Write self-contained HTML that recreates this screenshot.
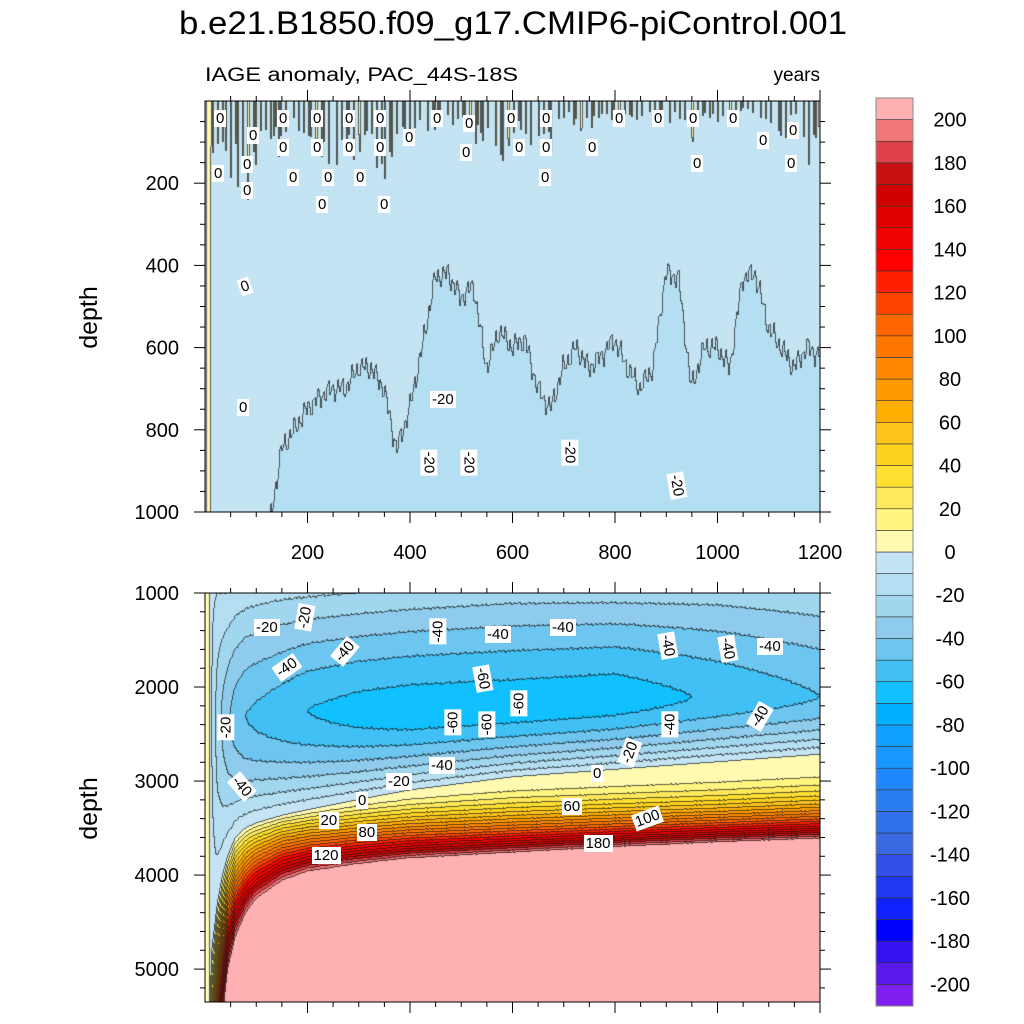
<!DOCTYPE html>
<html><head><meta charset="utf-8">
<style>
body{margin:0;background:#fff;width:1024px;height:1024px;overflow:hidden;font-family:"Liberation Sans",sans-serif;}
#wrap{position:relative;width:1024px;height:1024px;}
canvas{position:absolute;}
.t{position:absolute;white-space:nowrap;color:#000;}
.lab{position:absolute;background:#fff;font-size:15px;line-height:17px;padding:0 2px;transform-origin:center;white-space:nowrap;}
</style></head>
<body><div id="wrap">
<div class="t" style="left:58px;top:303px;font-size:25px;transform:rotate(-90deg);">depth</div>
<div class="t" style="left:58px;top:794px;font-size:25px;transform:rotate(-90deg);">depth</div>
<canvas id="ctop" width="615" height="411" style="left:205px;top:101px;"></canvas>
<canvas id="cbot" width="615" height="409" style="left:205px;top:593px;"></canvas>
<svg id="axes" width="1024" height="1024" style="position:absolute;left:0;top:0;">
<text x="179" y="34" font-size="32" textLength="668" lengthAdjust="spacingAndGlyphs" font-family="Liberation Sans, sans-serif">b.e21.B1850.f09_g17.CMIP6-piControl.001</text>
<text x="205" y="81" font-size="19" textLength="313" lengthAdjust="spacingAndGlyphs" font-family="Liberation Sans, sans-serif">IAGE anomaly, PAC_44S-18S</text>
<text x="820" y="81" font-size="19" text-anchor="end" font-family="Liberation Sans, sans-serif">years</text>
</svg>
<div id="labels"></div>
</div>
<script>
// ---- data ----
const levels = [-200,-190,-180,-170,-160,-150,-140,-130,-120,-110,-100,-90,-80,-70,-60,-50,-40,-30,-20,-10,0,10,20,30,40,50,60,70,80,90,100,110,120,130,140,150,160,170,180,190,200];
const colors = ["#8020f0","#5a18ea","#3412f0","#0000ff","#1020ff","#2038f0","#3050e8","#3a68e0","#3070e8","#2a7ef0","#2088ff","#1898ff","#10a0ff","#00b0ff","#10c0ff","#40c0f4","#6cc6f0","#8ecbec","#a0d6ee","#b4def2","#c4e4f4","#fffab0","#fff580","#ffe95a","#ffe030","#ffd21f","#ffc41a","#ffae00","#ff9a00","#ff8800","#ff7700","#ff6600","#ff4400","#ff2000","#ff0000","#f00000","#e00000","#d00000","#c81010","#e04048","#f07878","#ffb0b0"];
const cbTicks = [200,180,160,140,120,100,80,60,40,20,0,-20,-40,-60,-80,-100,-120,-140,-160,-180,-200];
const xTicks = [200,400,600,800,1000,1200];
const topYTicks = [200,400,600,800,1000];
const botYTicks = [1000,2000,3000,4000,5000];
// bottom panel profile knots (by model year)
const bYears = [1,8,14,25,35,45,60,80,100,150,200,300,400,600,800,1000,1200];
const bZero  = [6000,6000,4800,4300,4000,3800,3600,3500,3450,3370,3310,3200,3100,2960,2880,2800,2720];
const bPink  = [9000,9000,7500,6200,5500,5000,4650,4400,4250,4060,3960,3880,3820,3760,3700,3650,3610];
const bExp   = [1,1,1,1,1,1,1,1,1,1,1.1,1.3,1.5,1.8,2.0,2.2,2.3];
const bMin   = [5,5,-10,-25,-32,-38,-45,-50,-52,-56,-60,-64,-66,-66,-66,-58,-50];
const bMinZ  = [2300,2300,2300,2300,2300,2300,2300,2300,2300,2280,2250,2250,2250,2200,2120,2100,2100];
const bTop   = [5,5,-8,-10,-10,-10,-12,-14,-15,-17,-18,-20,-22,-25,-25,-25,-22];
// top panel: depth of -10 contour and depth of surface positive spikes, every 25 years
const tYears = [0,25,50,75,100,125,150,175,200,225,250,275,300,325,350,375,400,425,450,475,500,525,550,575,600,625,650,675,700,725,750,775,800,825,850,875,900,925,950,975,1000,1025,1050,1075,1100,1125,1150,1175,1200];
const tNeg = [1100,1100,1100,1100,1100,1050,850,800,750,720,700,700,650,650,700,850,750,600,430,420,480,450,650,560,600,580,700,750,650,600,650,620,580,650,700,650,420,430,700,600,600,650,430,420,550,600,650,600,620];
const tPos = [250,200,220,280,200,120,150,100,150,250,150,180,150,150,270,150,120,100,80,80,80,100,140,250,120,100,150,180,60,80,100,60,50,50,60,50,60,50,150,50,60,50,40,50,80,150,50,180,100];

// ---- scales ----
const X0=205, X1=820, T0=0, T1=1200;
const xs = t => X0 + (t-T0)/(T1-T0)*(X1-X0);
const TY0=101, TY1=512, ys1 = z => TY0 + z/1000*(TY1-TY0);
const BY0=593, BY1=1002, Z0b=1000, Z1b=5350, ys2 = z => BY0 + (z-Z0b)/(Z1b-Z0b)*(BY1-BY0);

function interp(kx, ky, x){
  if(x<=kx[0]) return ky[0];
  for(let i=1;i<kx.length;i++){ if(x<=kx[i]){const f=(x-kx[i-1])/(kx[i]-kx[i-1]);return ky[i-1]+f*(ky[i]-ky[i-1]);} }
  return ky[ky.length-1];
}
function levIdx(v){ if(v>=200) return 41; if(v<-200) return 0; return Math.floor((v+200)/10)+1; }
function cl(x){return Math.max(0,Math.min(1,x));}
function hex(c){return [parseInt(c.substr(1,2),16),parseInt(c.substr(3,2),16),parseInt(c.substr(5,2),16)];}
const rgb = colors.map(hex);
// texture (visual wiggle only)
function wig(px,s){return Math.sin(px*1.31+s)*0.5+Math.sin(px*0.537+2*s)*0.3+Math.sin(px*2.71+s*3)*0.2;}

function bottomVal(t,z,px){
  const z0=interp(bYears,bZero,t), zp=interp(bYears,bPink,t), p=interp(bYears,bExp,t);
  const A=interp(bYears,bMin,t), zm=interp(bYears,bMinZ,t), v1=interp(bYears,bTop,t);
  if(z>=z0){ const zz=z+4*wig(px,1); const f=(zz-z0)/(zp-z0); return 0.01+200*Math.pow(Math.max(f,0),p); }
  if(A>0) return A;
  const zz=z+14*wig(px,z*0.004);
  if(zz<zm){ const f=cl((zz-1000)/(zm-1000)); return v1+(A-v1)*(1-Math.pow(1-f,1.3)); }
  const f=cl((zz-zm)/(z0-zm));
  return Math.min(-0.01, A*(1-Math.pow(f,1.7)));
}
function topVal(t,z,px){
  if(t<12) return (t>3)?5:-5;
  const neg=interp(tYears,tNeg,t)+35*wig(px,0.5);
  const pos=interp(tYears,tPos,t)*(0.4+0.6*Math.abs(wig(px,1.7)));
  if(z<pos && wig(px*1.9,0.3)>0.35) return 3;
  if(z>neg) return -12;
  return -5;
}
function render(id, W, H, valFn, zOf){
  const c=document.getElementById(id), ctx=c.getContext('2d');
  const img=ctx.createImageData(W,H), idx=new Int16Array(W*H);
  for(let x=0;x<W;x++){ const t=T0+(x+0.5)/W*(T1-T0);
    for(let y=0;y<H;y++){ idx[y*W+x]=levIdx(valFn(t,zOf(y+0.5),x)); } }
  for(let y=0;y<H;y++) for(let x=0;x<W;x++){
    const k=y*W+x, i=idx[k]; let col=rgb[i];
    const edge=(y<H-1&&idx[k+W]!==i)||(x<W-1&&idx[k+1]!==i);
    if(edge) col=[col[0]*0.3+15,col[1]*0.3+15,col[2]*0.3+15];
    img.data[k*4]=col[0];img.data[k*4+1]=col[1];img.data[k*4+2]=col[2];img.data[k*4+3]=255;
  }
  ctx.putImageData(img,0,0);
}
render('ctop',615,411,topVal,y=>y/411*1000);
render('cbot',615,409,bottomVal,y=>1000+y/409*(5350-1000));

// ---- axes ----
const svg=document.getElementById('axes'), NS='http://www.w3.org/2000/svg';
function mk(tag,attrs,name){const e=document.createElementNS(NS,tag);for(const k in attrs)e.setAttribute(k,attrs[k]);
  
  
  svg.appendChild(e);return e;}
function txt(s,x,y,anchor,name){const e=mk('text',{x:x,y:y,'text-anchor':anchor,'font-size':20,'font-family':'Liberation Sans, sans-serif'},name);e.textContent=s;return e;}
mk('rect',{x:X0,y:TY0,width:X1-X0,height:TY1-TY0,fill:'none',stroke:'#000','stroke-width':1},'top-panel-frame');
mk('rect',{x:X0,y:BY0,width:X1-X0,height:BY1-BY0,fill:'none',stroke:'#000','stroke-width':1},'bottom-panel-frame');
for(let t=50;t<=1200;t+=50){const maj=t%200===0, L=maj?11:5;
  mk('line',{x1:xs(t),x2:xs(t),y1:TY0,y2:TY0-L,stroke:'#000'},'top-x-tick');
  mk('line',{x1:xs(t),x2:xs(t),y1:TY1,y2:TY1+L,stroke:'#000'},'top-x-tick');
  mk('line',{x1:xs(t),x2:xs(t),y1:BY0,y2:BY0-L,stroke:'#000'},'bottom-x-tick');
  mk('line',{x1:xs(t),x2:xs(t),y1:BY1,y2:BY1+L,stroke:'#000'},'bottom-x-tick');}
xTicks.forEach(t=>txt(String(t),xs(t),559,'middle','x-tick-label'));
for(let z=50;z<=1000;z+=50){const maj=z%200===0,L=maj?11:5;
  mk('line',{x1:X0,x2:X0-L,y1:ys1(z),y2:ys1(z),stroke:'#000'},'top-y-tick');
  mk('line',{x1:X1,x2:X1+L,y1:ys1(z),y2:ys1(z),stroke:'#000'},'top-y-tick');}
topYTicks.forEach(z=>txt(String(z),179,ys1(z)+7,'end','top-y-tick-label'));
for(let z=1000;z<=5350;z+=200){const maj=z%1000===0,L=maj?11:5;
  mk('line',{x1:X0,x2:X0-L,y1:ys2(z),y2:ys2(z),stroke:'#000'},'bottom-y-tick');
  mk('line',{x1:X1,x2:X1+L,y1:ys2(z),y2:ys2(z),stroke:'#000'},'bottom-y-tick');}
botYTicks.forEach(z=>txt(String(z),179,ys2(z)+7,'end','bottom-y-tick-label'));
// colorbar
const CB0=98, CBH=(1006-98)/colors.length;
for(let i=0;i<colors.length;i++){const y=CB0+(colors.length-1-i)*CBH;
  mk('rect',{x:876,y:y,width:37,height:CBH,fill:colors[i],stroke:'#333','stroke-width':0.6},'colorbar-box');}
mk('rect',{x:876,y:CB0,width:37,height:1006-98,fill:'none',stroke:'#888','stroke-width':1},'colorbar-frame');
cbTicks.forEach(v=>{const y=CB0+(20-v/10)*CBH+CBH; txt(String(v),950,y+7,'middle','colorbar-label');});

// contour labels
const labs=[
 ['-20',267,627,0],['-20',305,617,-80],['-40',287,667,-35],['-40',345,651,-50],['-40',438,631,-90],['-40',498,634,0],['-40',563,627,0],['-40',668,645,80],['-40',728,648,80],['-40',770,646,0],['-60',483,678,80],['-60',519,703,-90],['-60',453,722,-90],['-60',487,724,-90],['-40',670,724,-90],['-40',760,716,-60],['-20',630,752,-70],['-20',226,727,-90],['-40',242,786,50],['-40',442,765,0],['-20',399,781,0],['0',597,773,0],['0',362,800,0],['60',572,806,0],['100',647,818,-20],['20',329,820,0],['80',367,832,0],['180',598,843,0],['120',326,855,0],
 ['0',220,118,0],['0',283,118,0],['0',317,118,0],['0',349,118,0],['0',380,118,0],['0',437,118,0],['0',469,123,0],['0',511,118,0],['0',546,118,0],['0',619,118,0],['0',658,118,0],['0',693,118,0],['0',733,118,0],['0',793,130,0],['0',253,135,0],['0',283,147,0],['0',317,147,0],['0',349,147,0],['0',380,147,0],['0',409,137,0],['0',466,152,0],['0',519,147,0],['0',546,147,0],['0',592,147,0],['0',763,140,0],['0',791,163,0],['0',697,163,0],['0',218,173,0],['0',247,164,0],['0',293,177,0],['0',328,177,0],['0',360,177,0],['0',247,190,0],['0',322,204,0],['0',384,204,0],['0',545,177,0],['0',245,286,-20],['0',243,407,0],
 ['-20',443,399,0],['-20',429,462,90],['-20',469,462,90],['-20',570,452,90],['-20',677,485,80]];
const L=document.getElementById('labels');
labs.forEach(l=>{const d=document.createElement('div');d.className='lab';d.textContent=l[0];
  
  
  L.appendChild(d);const w=d.offsetWidth,h=d.offsetHeight;
  d.style.left=(l[1]-w/2)+'px';d.style.top=(l[2]-h/2)+'px';d.style.transform='rotate('+l[3]+'deg)';});
</script>
</body></html>
